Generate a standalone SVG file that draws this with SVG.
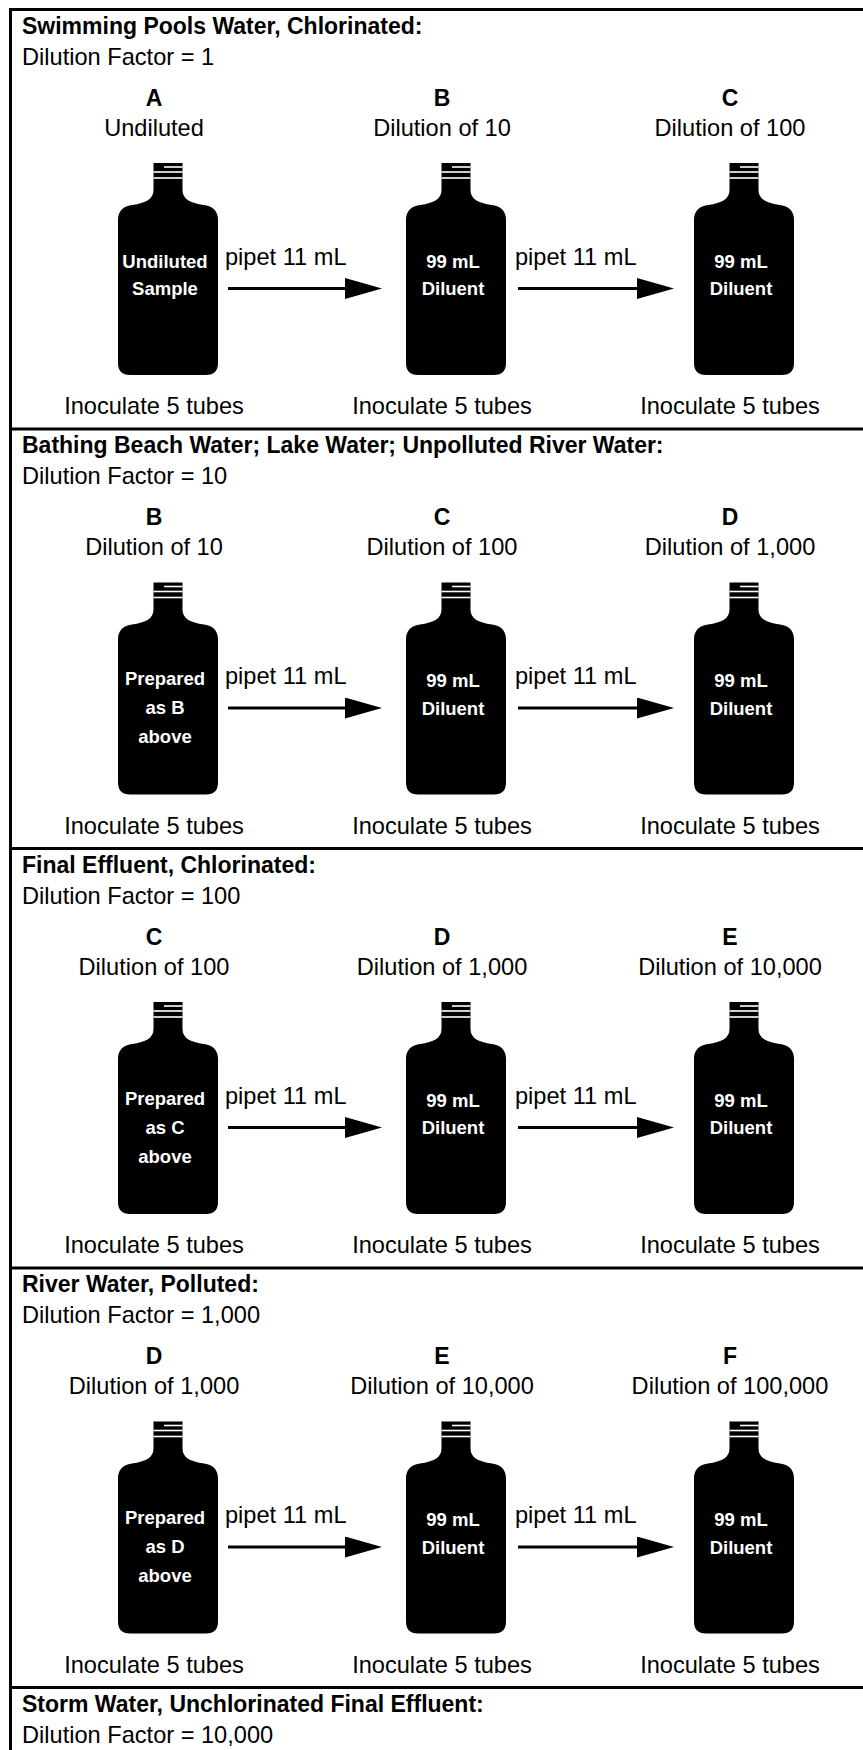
<svg xmlns="http://www.w3.org/2000/svg" xmlns:xlink="http://www.w3.org/1999/xlink" width="863" height="1750" viewBox="0 0 863 1750">
<style>
.t{font-family:"Liberation Sans",Arial,Helvetica,sans-serif;font-size:23.6px;fill:#000}
.b{font-weight:bold;font-size:23px}
.c{text-anchor:middle}
.w{font-family:"Liberation Sans",Arial,Helvetica,sans-serif;font-size:18.5px;font-weight:bold;fill:#fff;text-anchor:middle}
.rule{stroke:#000;stroke-width:3;fill:none}
.arr{stroke:#000;stroke-width:3;fill:none;marker-end:url(#head)}
.stripe{stroke:#fff;stroke-width:1.6}
</style>
<defs>
<marker id="head" markerUnits="userSpaceOnUse" markerWidth="37" markerHeight="21" refX="5" refY="10.5" orient="auto" viewBox="0 0 37 21">
<path d="M0,0 L37,10.5 L0,21 Z" fill="#000"/>
</marker>
<g id="bottle">
<path d="M-14.5,0 H14.5 V27 C14.5,36 22,40 36,42 C46,43.5 50,49 50,57 V200 Q50,212 38,212 H-38 Q-50,212 -50,200 V57 C-50,49 -46,43.5 -36,42 C-22,40 -14.5,36 -14.5,27 Z" fill="#000"/>
<line class="stripe" x1="-4" y1="4" x2="14.5" y2="4"/>
<line class="stripe" x1="-14.5" y1="9" x2="14.5" y2="9"/>
<line class="stripe" x1="-14.5" y1="15" x2="14.5" y2="15"/>
</g>
</defs>
<rect width="863" height="1750" fill="#fff"/>
<g id="frame">
<line class="rule" x1="9" y1="9.5" x2="863" y2="9.5"/>
<line class="rule" x1="9" y1="429" x2="863" y2="429"/>
<line class="rule" x1="9" y1="848.5" x2="863" y2="848.5"/>
<line class="rule" x1="9" y1="1268" x2="863" y2="1268"/>
<line class="rule" x1="9" y1="1687.5" x2="863" y2="1687.5"/>
<line class="rule" x1="10.5" y1="8" x2="10.5" y2="1750"/>
</g>

<!-- Section 1 -->
<g id="sec1-head">
<text class="t b" x="22" y="33.5">Swimming Pools Water, Chlorinated:</text>
<text class="t" x="22" y="64.5">Dilution Factor = 1</text>
</g>
<g id="s1-A">
<text class="t b c" x="154" y="105.5">A</text>
<text class="t c" x="154" y="135.5">Undiluted</text>
<use xlink:href="#bottle" href="#bottle" x="168" y="163"/>
<text class="w" x="165" y="267.5">Undiluted</text>
<text class="w" x="165" y="295">Sample</text>
<text class="t c" x="154" y="414">Inoculate 5 tubes</text>
</g>
<g id="s1-B">
<text class="t b c" x="442" y="105.5">B</text>
<text class="t c" x="442" y="135.5">Dilution of 10</text>
<use xlink:href="#bottle" href="#bottle" x="456" y="163"/>
<text class="w" x="453" y="267.5">99 mL</text>
<text class="w" x="453" y="295">Diluent</text>
<text class="t c" x="442" y="414">Inoculate 5 tubes</text>
</g>
<g id="s1-C">
<text class="t b c" x="730" y="105.5">C</text>
<text class="t c" x="730" y="135.5">Dilution of 100</text>
<use xlink:href="#bottle" href="#bottle" x="744" y="163"/>
<text class="w" x="741" y="267.5">99 mL</text>
<text class="w" x="741" y="295">Diluent</text>
<text class="t c" x="730" y="414">Inoculate 5 tubes</text>
</g>

<!-- Section 2 -->
<g id="sec2-head">
<text class="t b" x="22" y="453">Bathing Beach Water; Lake Water; Unpolluted River Water:</text>
<text class="t" x="22" y="484">Dilution Factor = 10</text>
</g>
<g id="s2-B">
<text class="t b c" x="154" y="525">B</text>
<text class="t c" x="154" y="555">Dilution of 10</text>
<use xlink:href="#bottle" href="#bottle" x="168" y="582.5"/>
<text class="w" x="165" y="685">Prepared</text>
<text class="w" x="165" y="714">as B</text>
<text class="w" x="165" y="743">above</text>
<text class="t c" x="154" y="833.5">Inoculate 5 tubes</text>
</g>
<g id="s2-C">
<text class="t b c" x="442" y="525">C</text>
<text class="t c" x="442" y="555">Dilution of 100</text>
<use xlink:href="#bottle" href="#bottle" x="456" y="582.5"/>
<text class="w" x="453" y="687">99 mL</text>
<text class="w" x="453" y="714.5">Diluent</text>
<text class="t c" x="442" y="833.5">Inoculate 5 tubes</text>
</g>
<g id="s2-D">
<text class="t b c" x="730" y="525">D</text>
<text class="t c" x="730" y="555">Dilution of 1,000</text>
<use xlink:href="#bottle" href="#bottle" x="744" y="582.5"/>
<text class="w" x="741" y="687">99 mL</text>
<text class="w" x="741" y="714.5">Diluent</text>
<text class="t c" x="730" y="833.5">Inoculate 5 tubes</text>
</g>

<!-- Section 3 -->
<g id="sec3-head">
<text class="t b" x="22" y="872.5">Final Effluent, Chlorinated:</text>
<text class="t" x="22" y="903.5">Dilution Factor = 100</text>
</g>
<g id="s3-C">
<text class="t b c" x="154" y="944.5">C</text>
<text class="t c" x="154" y="974.5">Dilution of 100</text>
<use xlink:href="#bottle" href="#bottle" x="168" y="1002"/>
<text class="w" x="165" y="1104.5">Prepared</text>
<text class="w" x="165" y="1133.5">as C</text>
<text class="w" x="165" y="1162.5">above</text>
<text class="t c" x="154" y="1253">Inoculate 5 tubes</text>
</g>
<g id="s3-D">
<text class="t b c" x="442" y="944.5">D</text>
<text class="t c" x="442" y="974.5">Dilution of 1,000</text>
<use xlink:href="#bottle" href="#bottle" x="456" y="1002"/>
<text class="w" x="453" y="1106.5">99 mL</text>
<text class="w" x="453" y="1134">Diluent</text>
<text class="t c" x="442" y="1253">Inoculate 5 tubes</text>
</g>
<g id="s3-E">
<text class="t b c" x="730" y="944.5">E</text>
<text class="t c" x="730" y="974.5">Dilution of 10,000</text>
<use xlink:href="#bottle" href="#bottle" x="744" y="1002"/>
<text class="w" x="741" y="1106.5">99 mL</text>
<text class="w" x="741" y="1134">Diluent</text>
<text class="t c" x="730" y="1253">Inoculate 5 tubes</text>
</g>

<!-- Section 4 -->
<g id="sec4-head">
<text class="t b" x="22" y="1292">River Water, Polluted:</text>
<text class="t" x="22" y="1323">Dilution Factor = 1,000</text>
</g>
<g id="s4-D">
<text class="t b c" x="154" y="1364">D</text>
<text class="t c" x="154" y="1394">Dilution of 1,000</text>
<use xlink:href="#bottle" href="#bottle" x="168" y="1421.5"/>
<text class="w" x="165" y="1524">Prepared</text>
<text class="w" x="165" y="1553">as D</text>
<text class="w" x="165" y="1582">above</text>
<text class="t c" x="154" y="1672.5">Inoculate 5 tubes</text>
</g>
<g id="s4-E">
<text class="t b c" x="442" y="1364">E</text>
<text class="t c" x="442" y="1394">Dilution of 10,000</text>
<use xlink:href="#bottle" href="#bottle" x="456" y="1421.5"/>
<text class="w" x="453" y="1526">99 mL</text>
<text class="w" x="453" y="1553.5">Diluent</text>
<text class="t c" x="442" y="1672.5">Inoculate 5 tubes</text>
</g>
<g id="s4-F">
<text class="t b c" x="730" y="1364">F</text>
<text class="t c" x="730" y="1394">Dilution of 100,000</text>
<use xlink:href="#bottle" href="#bottle" x="744" y="1421.5"/>
<text class="w" x="741" y="1526">99 mL</text>
<text class="w" x="741" y="1553.5">Diluent</text>
<text class="t c" x="730" y="1672.5">Inoculate 5 tubes</text>
</g>

<!-- Section 5 -->
<g id="sec5-head">
<text class="t b" x="22" y="1711.5">Storm Water, Unchlorinated Final Effluent:</text>
<text class="t" x="22" y="1742.5">Dilution Factor = 10,000</text>
</g>

<g id="connectors">
<line class="arr" x1="228" y1="288.5" x2="350" y2="288.5"/>
<text class="t" x="225" y="264.5">pipet 11 mL</text>
<line class="arr" x1="518" y1="288.5" x2="642" y2="288.5"/>
<text class="t" x="515" y="264.5">pipet 11 mL</text>
<line class="arr" x1="228" y1="708" x2="350" y2="708"/>
<text class="t" x="225" y="684">pipet 11 mL</text>
<line class="arr" x1="518" y1="708" x2="642" y2="708"/>
<text class="t" x="515" y="684">pipet 11 mL</text>
<line class="arr" x1="228" y1="1127.5" x2="350" y2="1127.5"/>
<text class="t" x="225" y="1103.5">pipet 11 mL</text>
<line class="arr" x1="518" y1="1127.5" x2="642" y2="1127.5"/>
<text class="t" x="515" y="1103.5">pipet 11 mL</text>
<line class="arr" x1="228" y1="1547" x2="350" y2="1547"/>
<text class="t" x="225" y="1523">pipet 11 mL</text>
<line class="arr" x1="518" y1="1547" x2="642" y2="1547"/>
<text class="t" x="515" y="1523">pipet 11 mL</text>
</g>
</svg>
